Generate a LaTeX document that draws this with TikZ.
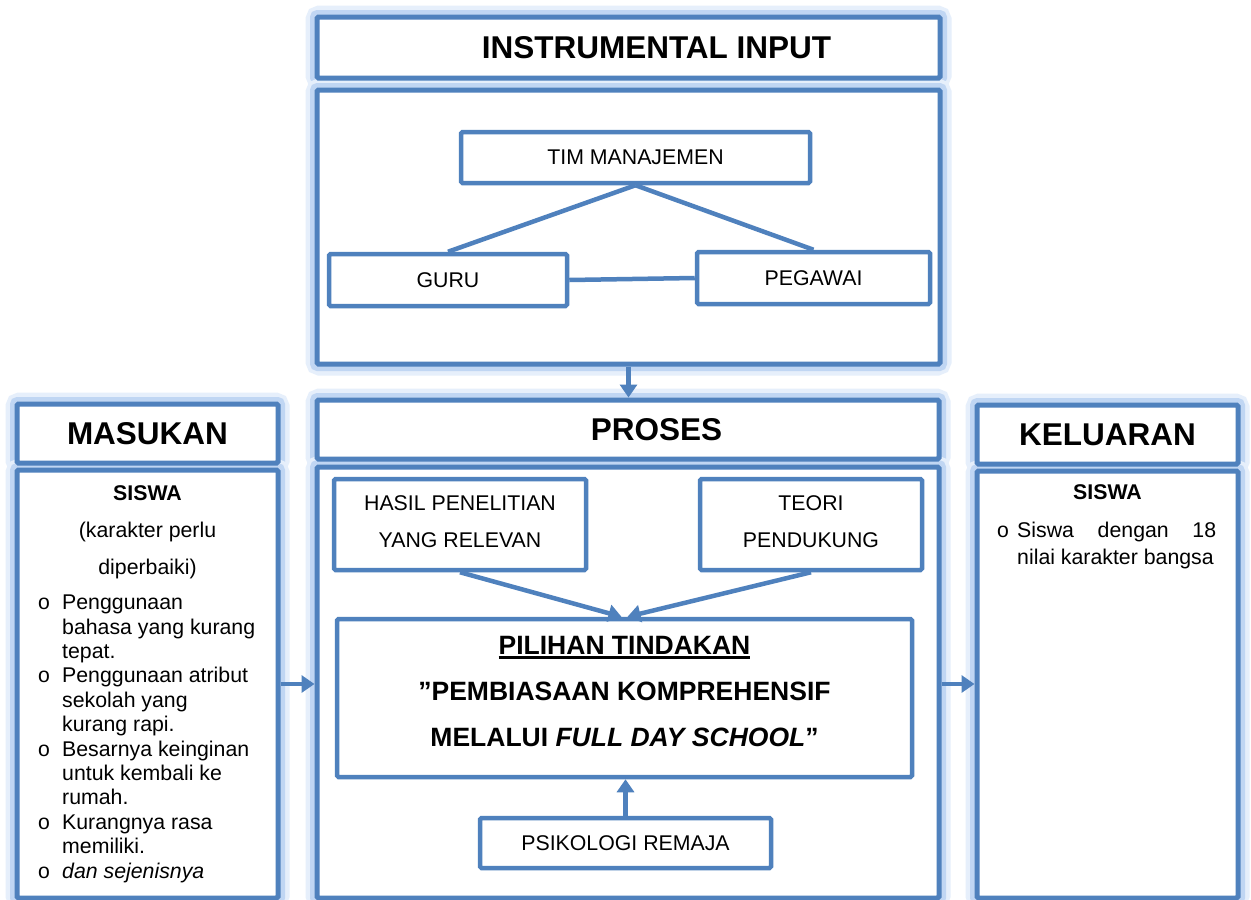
\documentclass[tikz,border=0pt]{standalone}
\usepackage{fontspec}
\setmainfont{Liberation Sans}
\newfontfamily\bulfont{Liberation Mono}
\usetikzlibrary{arrows.meta}
\definecolor{bblue}{RGB}{79,129,189}
\definecolor{glowA}{RGB}{230,239,251}
\definecolor{glowB}{RGB}{192,214,243}
\pgfdeclarelayer{bg}
\pgfsetlayers{bg,main}
\newcommand\fsN{\fontsize{21.3}{24.4}\selectfont}
\newcommand\fsH{\fontsize{31.5}{36}\selectfont\bfseries}
\newcommand\fsP{\fontsize{26.5}{46}\selectfont\bfseries}
\newcommand\bul{{\bulfont o}}
\newcommand\myul[1]{\setbox0\hbox{#1}\rlap{\rule[-4.5pt]{\wd0}{2.4pt}}\box0}
\begin{document}
\begin{tikzpicture}[x=1pt,y=-1pt,
  big/.style={draw=bblue, line width=5pt, fill=white, rounded corners=1.5pt, inner sep=0pt, font=\fsH},
  small/.style={draw=bblue, line width=4.5pt, fill=white, rounded corners=1.5pt, inner sep=0pt, font=\fsN, align=center},
  sz/.style 2 args={minimum width=#1pt, minimum height=#2pt},
  conn/.style={draw=bblue, line width=4.5pt},
  arr/.style={conn, -{Triangle[width=17pt,length=13pt]}},
  plain/.style={inner sep=0pt}
]
\useasboundingbox (0,0) rectangle (1251,900);

% ---- Instrumental input
\node[big, sz={623}{61}] (inhead) at (628.5,47.5) {\hspace*{56pt}INSTRUMENTAL INPUT};
\node[big, sz={623}{274}] (inbody) at (628.5,227) {};
\node[small, sz={349}{51}] (tim) at (635.5,157.5) {TIM MANAJEMEN};
\node[small, sz={238}{52}] (guru) at (448,280) {GURU};
\node[small, sz={233}{52}] (pegawai) at (813.5,278) {PEGAWAI};
\draw[conn] (tim.south) -- (guru.north);
\draw[conn] (tim.south) -- (pegawai.north);
\draw[conn] (guru.east) -- (pegawai.west);

% ---- Masukan
\node[big, sz={261}{59}] (mashead) at (147.5,433.5) {MASUKAN};
\node[big, sz={261}{428}] (masbody) at (147.5,684) {};
\node[plain, font=\fsN\bfseries, anchor=base] (massiswa) at (147.5,500.5) {SISWA};
\node[plain, font=\fsN, anchor=base] (maskar) at (147.5,537.5) {(karakter perlu};
\node[plain, font=\fsN, anchor=base] (masdip) at (147.5,574.5) {diperbaiki)};
\node[plain, anchor=north west, font=\fsN] (maslist) at (37.5,592.5) {%
\begin{tabular}{@{}p{24.5pt}@{}l@{}}
\bul & Penggunaan\\
 & bahasa yang kurang\\
 & tepat.\\
\bul & Penggunaan atribut\\
 & sekolah yang\\
 & kurang rapi.\\
\bul & Besarnya keinginan\\
 & untuk kembali ke\\
 & rumah.\\
\bul & Kurangnya rasa\\
 & memiliki.\\
\bul & \textit{dan sejenisnya}
\end{tabular}};

% ---- Proses
\node[big, sz={622}{59}] (prohead) at (628,429.5) {\hspace*{57pt}PROSES};
\node[big, sz={622}{431}] (probody) at (628,682.5) {};
\node[small, sz={252}{91}, font=\fontsize{21.3}{37}\selectfont] (hasil) at (460,524.5) {HASIL PENELITIAN\\YANG RELEVAN\rule[-5pt]{0pt}{0pt}};
\node[small, sz={222}{91}, font=\fontsize{21.3}{37}\selectfont] (teori) at (811,524.5) {TEORI\\PENDUKUNG\rule[-5pt]{0pt}{0pt}};
\node[small, sz={575}{158}, font=\fsP] (pilihan) at (624.5,698) {\myul{PILIHAN TINDAKAN}\\”PEMBIASAAN KOMPREHENSIF\\MELALUI \textit{FULL DAY SCHOOL}”\rule[-14pt]{0pt}{0pt}};
\node[small, sz={291}{50}] (psik) at (625.5,843) {PSIKOLOGI REMAJA};
\draw[arr] (hasil.south) -- ([xshift=-3pt]pilihan.north);
\draw[arr] (teori.south) -- ([xshift=3pt]pilihan.north);
\draw[arr] (psik.north) -- (psik.north |- pilihan.south);

% ---- Keluaran
\node[big, sz={261}{59}] (kelhead) at (1107.5,434.5) {KELUARAN};
\node[big, sz={261}{427}] (kelbody) at (1107.5,684.5) {};
\node[plain, font=\fsN\bfseries, anchor=base] (kelsiswa) at (1107.5,499.5) {SISWA};
\node[plain, anchor=north west, font=\fontsize{21.3}{27.5}\selectfont] (kellist) at (996.5,517.75) {%
\begin{tabular}{@{}p{20.5pt}@{}l@{}}
\bul & \makebox[199pt][s]{Siswa dengan 18}\\
 & nilai karakter bangsa
\end{tabular}};

% ---- main connectors
\draw[arr] (inbody.south) -- (inbody.south |- prohead.north);
\draw[arr] (masbody.east) -- (masbody.east -| probody.west);
\draw[arr] (probody.east |- masbody.east) -- (kelbody.west |- masbody.east);

% ---- glow
\begin{pgfonlayer}{bg}
\fill[white] (0,0) rectangle (1251,900);
\foreach \n in {inhead,inbody,mashead,masbody,prohead,probody,kelhead,kelbody}{
  \draw[glowA, line width=18pt, rounded corners=5pt] (\n.south west) rectangle (\n.north east);
  \draw[glowB, line width=9pt, rounded corners=3pt] (\n.south west) rectangle (\n.north east);
}
\end{pgfonlayer}
\end{tikzpicture}
\end{document}
